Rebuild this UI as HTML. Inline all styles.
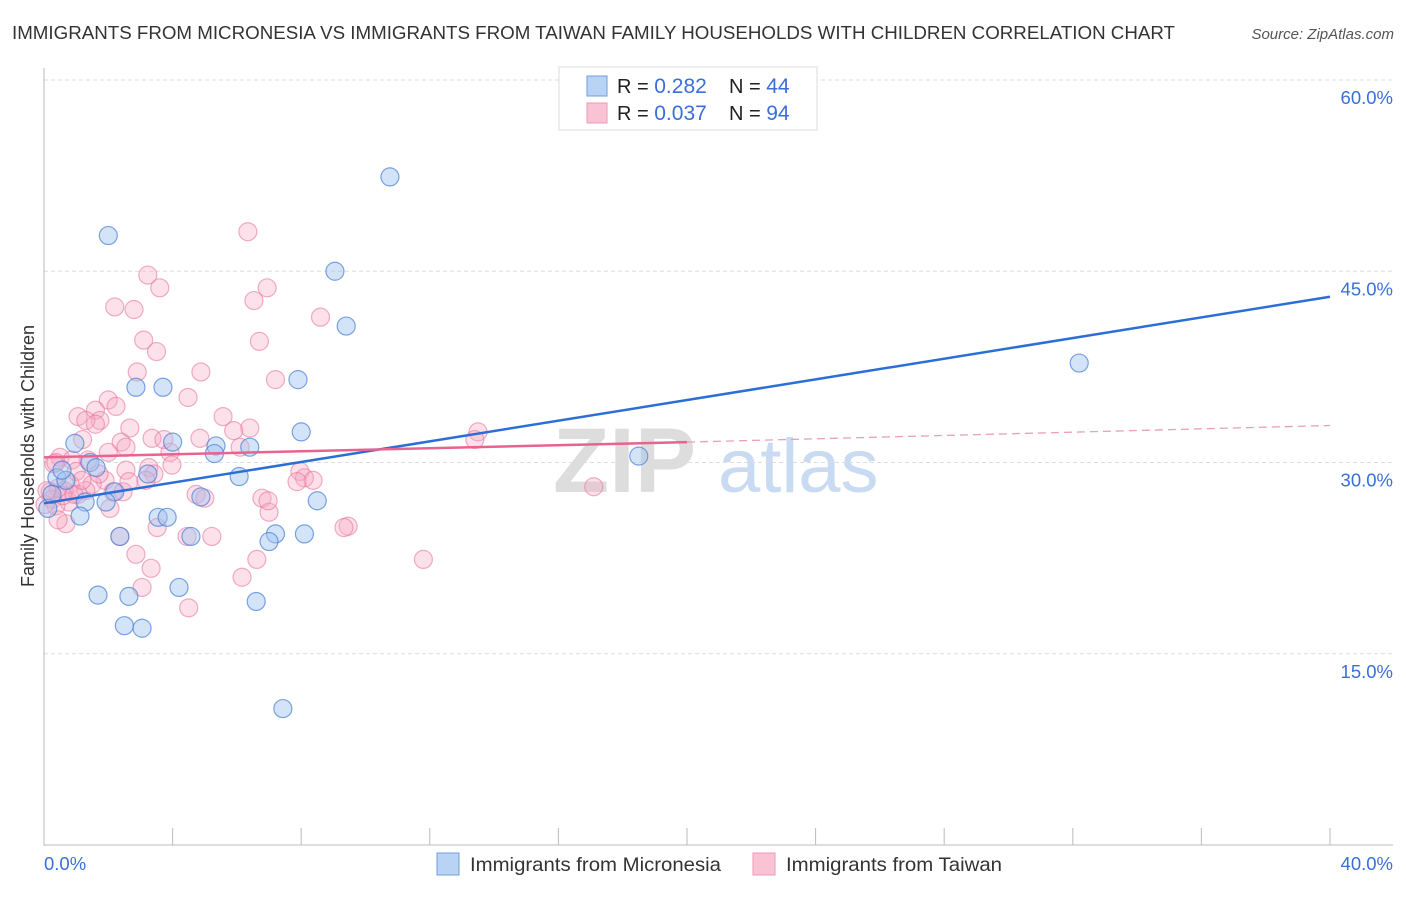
<!DOCTYPE html>
<html><head><meta charset="utf-8"><style>
body{margin:0;background:#fff;font-family:"Liberation Sans",sans-serif;}
svg text{font-family:"Liberation Sans",sans-serif;}
</style></head><body>
<svg width="1406" height="892" viewBox="0 0 1406 892">
<text x="12" y="39" font-size="18" fill="#333" textLength="1163" lengthAdjust="spacingAndGlyphs">IMMIGRANTS FROM MICRONESIA VS IMMIGRANTS FROM TAIWAN FAMILY HOUSEHOLDS WITH CHILDREN CORRELATION CHART</text>
<text x="1394" y="39" font-size="15" fill="#555" font-style="italic" text-anchor="end">Source: ZipAtlas.com</text>
<g>
<text x="553" y="492" font-size="92" fill="#ddd" font-family="Liberation Serif" font-weight="bold">ZIP</text>
<text x="718" y="492" font-size="76" fill="#c9daf3">atlas</text>
</g>
<g id="grid"></g>
<g id="axes"></g>
<g id="lines"></g>
<g id="pts"></g>
<text transform="translate(34,456) rotate(-90)" font-size="18" fill="#333" text-anchor="middle">Family Households with Children</text>
<g>
<rect x="559" y="67" width="258" height="63" fill="#fff" stroke="#ddd"/>
<rect x="587" y="76" width="20" height="20" fill="#b9d3f5" stroke="#6e9ee0"/>
<rect x="587" y="103" width="20" height="20" fill="#f9c3d3" stroke="#ec9ab4"/>
<text x="617" y="93" font-size="20" fill="#222">R = <tspan fill="#3a6fd8" font-size="21">0.282</tspan></text>
<text x="729" y="93" font-size="20" fill="#222">N = <tspan fill="#3a6fd8" font-size="21">44</tspan></text>
<text x="617" y="120" font-size="20" fill="#222">R = <tspan fill="#3a6fd8" font-size="21">0.037</tspan></text>
<text x="729" y="120" font-size="20" fill="#222">N = <tspan fill="#3a6fd8" font-size="21">94</tspan></text>
</g>
<g>
<rect x="437" y="853" width="22" height="22" fill="#b9d3f5" stroke="#6e9ee0"/>
<text x="470" y="871" font-size="19.5" fill="#333" textLength="251" lengthAdjust="spacingAndGlyphs">Immigrants from Micronesia</text>
<rect x="753" y="853" width="22" height="22" fill="#f9c3d3" stroke="#ec9ab4"/>
<text x="786" y="871" font-size="19.5" fill="#333" textLength="216" lengthAdjust="spacingAndGlyphs">Immigrants from Taiwan</text>
</g>
</svg>
<script>
const yTicks=[15,30,45,60];
const yTickLabels=["15.0%","30.0%","45.0%","60.0%"];
const xTickCount=10;
const xLabels=["0.0%","40.0%"];
const blueX=[10.76,2.0,9.05,9.4,32.2,2.86,3.7,7.9,8.0,4.0,0.96,5.35,6.4,5.3,18.5,1.43,1.62,3.23,6.07,0.4,0.68,2.2,4.88,8.5,1.28,1.93,0.12,1.12,3.55,3.83,2.36,4.57,7.2,8.1,7.0,4.2,1.68,2.64,6.6,2.5,3.05,7.43,0.25,0.56];
const blueY=[52.4,47.8,45.0,40.7,37.8,35.9,35.9,36.5,32.4,31.6,31.5,31.3,31.2,30.7,30.5,30.0,29.6,29.1,28.9,28.8,28.6,27.7,27.3,27.0,26.9,26.9,26.4,25.8,25.7,25.7,24.2,24.2,24.4,24.4,23.8,20.2,19.6,19.5,19.1,17.2,17.0,10.7,27.5,29.4];
const pinkX=[6.34,3.23,3.6,6.94,6.53,2.2,2.8,8.6,3.1,6.7,3.5,2.9,4.88,7.2,4.48,2.0,2.24,1.6,1.06,5.57,1.74,1.3,1.6,2.67,6.4,5.9,13.5,13.4,3.36,3.73,2.4,1.2,2.55,3.92,2.0,0.5,1.37,0.87,0.31,3.98,3.26,2.55,1.0,7.96,3.42,8.1,8.37,7.87,1.9,2.64,1.5,0.81,17.1,0.44,1.3,0.62,0.19,1.06,4.73,5.0,6.78,0.25,0.78,2.05,0.37,7.0,0.68,3.52,9.46,9.33,4.45,5.22,2.36,2.86,6.62,11.8,3.33,6.16,3.05,4.5,0.37,0.59,1.71,6.97,0.93,0.03,1.18,2.15,3.17,2.46,6.1,4.85,0.09,0.44];
const pinkY=[48.1,44.7,43.7,43.7,42.7,42.2,42.0,41.4,39.6,39.5,38.7,37.1,37.1,36.5,35.1,34.9,34.4,34.1,33.6,33.6,33.3,33.3,33.0,32.7,32.7,32.5,32.4,31.8,31.9,31.8,31.6,31.8,31.2,30.8,30.8,30.4,30.2,30.2,29.9,29.8,29.6,29.4,29.3,29.3,29.1,28.8,28.6,28.5,28.6,28.5,28.3,28.3,28.1,28.0,27.8,27.8,27.7,27.5,27.5,27.2,27.2,27.1,26.9,26.4,26.6,26.1,25.2,24.9,25.0,24.9,24.2,24.2,24.2,22.8,22.4,22.4,21.7,21.0,20.2,18.6,30.0,27.4,29.1,27.0,27.5,26.7,28.6,27.7,28.6,27.7,31.2,31.9,27.8,25.5];
const blueLine=[[0,26.8],[40,43.0]];
const pinkSolid=[[0,30.4],[20,31.6]];
const pinkDash=[[20,31.6],[40,32.9]];
const NS="http://www.w3.org/2000/svg";
const X=v=>44+v*(1286/40), Y=v=>845-v*12.75;
function mk(tag,attrs,parent){const e=document.createElementNS(NS,tag);for(const k in attrs)e.setAttribute(k,attrs[k]);document.getElementById(parent).appendChild(e);return e;}
yTicks.forEach((t,i)=>{
 const g=mk('line',{x1:44,x2:1393,y1:Y(t),y2:Y(t),stroke:'#ddd','stroke-dasharray':'4,3'},'grid');
 
 
 const l=mk('text',{x:1393,y:Y(t)+24,'font-size':18.5,fill:'#3a6fd8','text-anchor':'end'},'grid');
 l.textContent=yTickLabels[i];
 
 
});
const ax=mk('line',{x1:44,x2:44,y1:68,y2:846,stroke:'#bbb'},'axes');


const bx=mk('line',{x1:44,x2:1393,y1:845,y2:845,stroke:'#bbb'},'axes');


for(let i=1;i<=xTickCount;i++){
 const t=mk('line',{x1:X(i*4),x2:X(i*4),y1:828,y2:845,stroke:'#bbb'},'axes');
 
 
}
const xl0=mk('text',{x:44,y:870,'font-size':18.5,fill:'#3a6fd8'},'axes');xl0.textContent=xLabels[0];


const xl1=mk('text',{x:1393,y:870,'font-size':18.5,fill:'#3a6fd8','text-anchor':'end'},'axes');xl1.textContent=xLabels[1];


pinkX.forEach((v,i)=>{const c=mk('circle',{cx:X(v),cy:Y(pinkY[i]),r:9,fill:'rgba(247,170,195,0.35)',stroke:'rgba(232,120,158,0.6)','stroke-width':1.2},'pts');
 
 });
blueX.forEach((v,i)=>{const c=mk('circle',{cx:X(v),cy:Y(blueY[i]),r:9,fill:'rgba(160,195,240,0.45)',stroke:'rgba(70,125,215,0.7)','stroke-width':1.2},'pts');
 
 });
const bl=mk('line',{x1:X(blueLine[0][0]),y1:Y(blueLine[0][1]),x2:X(blueLine[1][0]),y2:Y(blueLine[1][1]),stroke:'#2b6fd6','stroke-width':2.5},'pts');


const ps=mk('line',{x1:X(pinkSolid[0][0]),y1:Y(pinkSolid[0][1]),x2:X(pinkSolid[1][0]),y2:Y(pinkSolid[1][1]),stroke:'#e8638f','stroke-width':2.5},'pts');


const pd=mk('line',{x1:X(pinkDash[0][0]),y1:Y(pinkDash[0][1]),x2:X(pinkDash[1][0]),y2:Y(pinkDash[1][1]),stroke:'#e8a0b8','stroke-width':1.3,'stroke-dasharray':'8,5'},'pts');


</script>
</body></html>
